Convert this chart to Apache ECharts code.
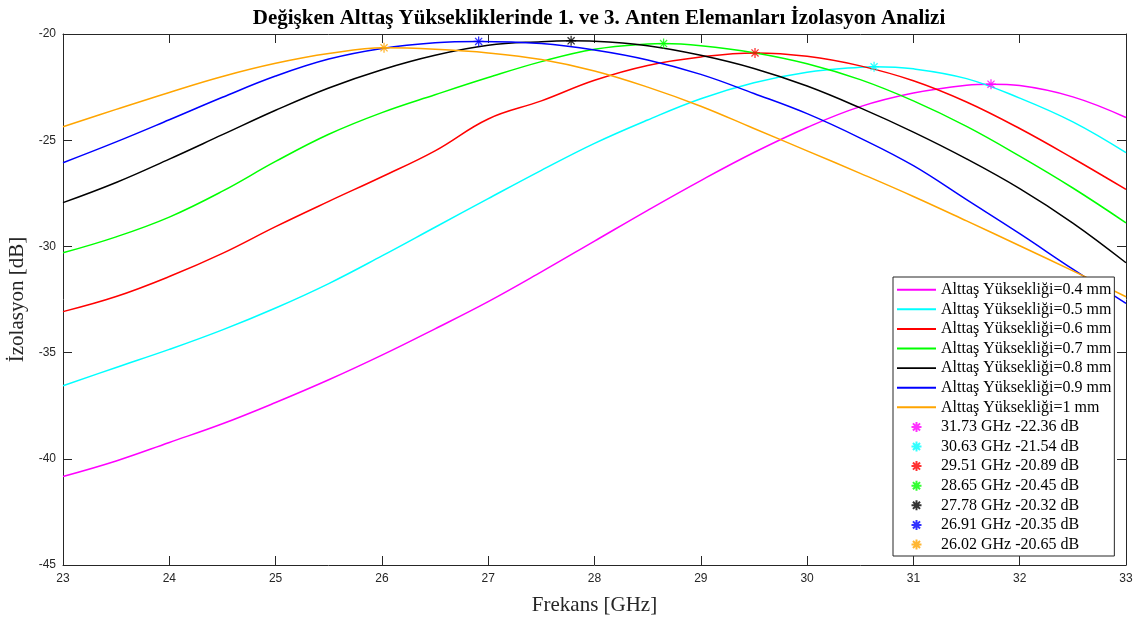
<!DOCTYPE html>
<html>
<head>
<meta charset="utf-8">
<script src="https://cdn.jsdelivr.net/npm/echarts@6/dist/echarts.min.js"></script>
<style>
  html, body { margin: 0; padding: 0; background: #fff; }
  #chart { width: 1140px; height: 619px; }
</style>
</head>
<body>
<div id="chart"></div>
<script>
// Frequency grid (GHz) shared by all isolation curves
const freq = [23, 23.5, 24, 24.5, 25, 25.5, 26, 26.5, 27, 27.5, 28, 28.5, 29, 29.5, 30, 30.5, 31, 31.5, 32, 32.5, 33];

// Isolation (dB) between elements 1 and 3 for each substrate height
const iso04 = [-40.83, -40.10, -39.23, -38.35, -37.35, -36.28, -35.12, -33.88, -32.60, -31.20, -29.75, -28.30, -26.90, -25.58, -24.40, -23.42, -22.78, -22.41, -22.43, -22.96, -23.93];
const iso05 = [-36.56, -35.70, -34.85, -33.93, -32.90, -31.75, -30.45, -29.10, -27.75, -26.42, -25.15, -24.05, -23.05, -22.30, -21.80, -21.56, -21.64, -22.10, -23.02, -24.14, -25.59];
const iso06 = [-33.07, -32.36, -31.42, -30.33, -29.07, -27.88, -26.72, -25.50, -24.00, -23.15, -22.18, -21.48, -21.08, -20.90, -21.05, -21.50, -22.20, -23.20, -24.45, -25.85, -27.32];
const iso07 = [-30.30, -29.55, -28.62, -27.40, -26.00, -24.72, -23.70, -22.86, -22.05, -21.30, -20.72, -20.47, -20.55, -20.88, -21.40, -22.15, -23.15, -24.35, -25.75, -27.25, -28.89];
const iso08 = [-27.94, -26.99, -25.89, -24.74, -23.59, -22.54, -21.68, -21.00, -20.53, -20.36, -20.34, -20.55, -21.00, -21.62, -22.45, -23.48, -24.62, -25.88, -27.28, -28.90, -30.77];
const iso09 = [-26.06, -25.08, -24.04, -22.98, -21.98, -21.18, -20.68, -20.41, -20.36, -20.45, -20.75, -21.22, -21.90, -22.80, -23.75, -24.90, -26.20, -27.80, -29.40, -31.07, -32.68];
const iso10 = [-24.37, -23.55, -22.75, -22.00, -21.38, -20.92, -20.66, -20.72, -20.89, -21.20, -21.74, -22.50, -23.40, -24.45, -25.50, -26.56, -27.65, -28.80, -29.97, -31.15, -32.37];

// Substrate heights (mm) and the peak (best-case) isolation points
const heights = ['0.4', '0.5', '0.6', '0.7', '0.8', '0.9', '1'];
const peakFreq = [31.73, 30.63, 29.51, 28.65, 27.78, 26.91, 26.02];
const peakVal = [-22.36, -21.54, -20.89, -20.45, -20.32, -20.35, -20.65];

// Axis ticks
const xMin = 23, xMax = 33, xStep = 1;
const yMin = -45, yMax = -20, yStep = 5;

const curves = [iso04, iso05, iso06, iso07, iso08, iso09, iso10];
const colors = ['#FF00FF', '#00FFFF', '#FF0000', '#00FF00', '#000000', '#0000FF', '#FFA500'];
const STAR = 'path://M5 0L5 10M0 5L10 5M1.46 1.46L8.54 8.54M1.46 8.54L8.54 1.46';
const LINE_ICON = 'path://M0 0L40 0L40 2L0 2Z';
const AXIS = '#262626';

// Merge the peak point into a curve so the line passes through the marker
function curvePoints(vals, pf, pv) {
  const pts = freq.map((f, i) => [f, vals[i]]).filter(p => Math.abs(p[0] - pf) > 0.1);
  pts.push([pf, pv]);
  pts.sort((a, b) => a[0] - b[0]);
  return pts;
}

const lineNames = heights.map(h => 'Alttaş Yüksekliği=' + h + ' mm');
const peakNames = peakFreq.map((f, i) => f.toFixed(2) + ' GHz ' + peakVal[i].toFixed(2) + ' dB');

const series = [];
curves.forEach((vals, i) => {
  series.push({
    name: lineNames[i],
    type: 'line',
    data: curvePoints(vals, peakFreq[i], peakVal[i]),
    smooth: 0.4,
    symbol: 'none',
    lineStyle: { color: colors[i], width: 1.5 },
    itemStyle: { color: colors[i] },
    z: 2
  });
});
peakFreq.forEach((f, i) => {
  series.push({
    name: peakNames[i],
    type: 'scatter',
    data: [[f, peakVal[i]]],
    symbol: STAR,
    symbolSize: 10,
    itemStyle: { color: 'none', borderColor: colors[i], borderWidth: 1.3 },
    z: 5
  });
});

const legendData = lineNames.map(n => ({ name: n, icon: LINE_ICON }))
  .concat(peakNames.map(n => ({ name: n })));

const tickStyle = { color: AXIS, width: 1 };
const chart = echarts.init(document.getElementById('chart'), null, { renderer: 'canvas' });
chart.setOption({
  animation: false,
  backgroundColor: '#ffffff',
  title: {
    text: 'Değişken Alttaş Yüksekliklerinde 1. ve 3. Anten Elemanları İzolasyon Analizi',
    left: 594, top: 3, textAlign: 'center',
    textStyle: { fontFamily: 'Liberation Serif', fontSize: 21, fontWeight: 'bold', color: '#000' }
  },
  grid: { left: 63, right: 14, top: 34, bottom: 54, containLabel: false, outerBoundsMode: 'none' },
  legend: {
    orient: 'vertical',
    left: 893, top: 277,
    padding: [4.7, 3, 3.5, 4],
    itemGap: 3.6,
    itemWidth: 39, itemHeight: 10,
    backgroundColor: '#ffffff',
    borderColor: '#262626', borderWidth: 1,
    textStyle: { fontFamily: 'Liberation Serif', fontSize: 16, color: '#000', lineHeight: 16 },
    data: legendData
  },
  xAxis: [{
    type: 'value', min: xMin, max: xMax, interval: xStep, position: 'bottom',
    name: 'Frekans [GHz]', nameLocation: 'middle', nameGap: 30,
    nameTextStyle: { fontFamily: 'Liberation Serif', fontSize: 21, color: AXIS },
    axisLine: { show: true, onZero: false, lineStyle: tickStyle },
    axisTick: { show: true, inside: true, length: 9, lineStyle: tickStyle },
    axisLabel: { color: AXIS, fontFamily: 'Liberation Sans', fontSize: 12, margin: 8 },
    splitLine: { show: false }
  }, {
    type: 'value', min: xMin, max: xMax, interval: xStep, position: 'top',
    axisLine: { show: true, onZero: false, lineStyle: tickStyle },
    axisTick: { show: true, inside: true, length: 9, lineStyle: tickStyle },
    axisLabel: { show: false },
    splitLine: { show: false }
  }],
  yAxis: [{
    type: 'value', min: yMin, max: yMax, interval: yStep, position: 'left',
    name: 'İzolasyon [dB]', nameLocation: 'middle', nameGap: 22,
    nameTextStyle: { fontFamily: 'Liberation Serif', fontSize: 21, color: AXIS },
    axisLine: { show: true, onZero: false, lineStyle: tickStyle },
    axisTick: { show: true, inside: true, length: 9, lineStyle: tickStyle },
    axisLabel: { color: AXIS, fontFamily: 'Liberation Sans', fontSize: 12, margin: 7 },
    splitLine: { show: false }
  }, {
    type: 'value', min: yMin, max: yMax, interval: yStep, position: 'right',
    axisLine: { show: true, onZero: false, lineStyle: tickStyle },
    axisTick: { show: true, inside: true, length: 9, lineStyle: tickStyle },
    axisLabel: { show: false },
    splitLine: { show: false }
  }],
  series: series
});
</script>
</body>
</html>
